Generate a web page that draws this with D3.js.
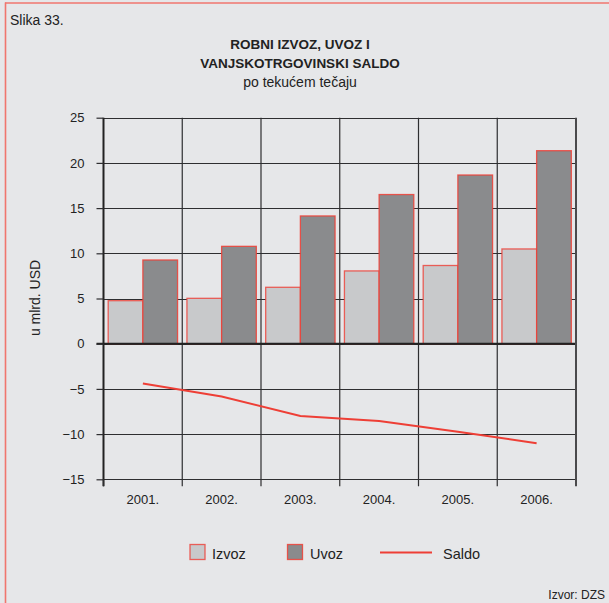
<!DOCTYPE html>
<html><head><meta charset="utf-8">
<script src="https://cdn.jsdelivr.net/npm/d3@7"></script>
<style>
html,body{margin:0;padding:0;background:#e6e7e9;}
svg{display:block;font-family:"Liberation Sans",Arial,sans-serif;}
</style></head>
<body>
<svg id="c" width="609" height="603"></svg>
<script>
const years = ["2001.","2002.","2003.","2004.","2005.","2006."];
const izvoz = [4.76, 5.02, 6.24, 8.05, 8.65, 10.48];
const uvoz  = [9.26, 10.77, 14.13, 16.5, 18.66, 21.35];
const saldo = [-4.4, -5.85, -8.0, -8.55, -9.75, -11.0];
const yTicks = [25,20,15,10,5,0,-5,-10,-15];
const yTickLabels = ["25","20","15","10","5","0","\u22125","\u221210","\u221215"];
const legendLabels = ["Izvoz","Uvoz","Saldo"];

const svg = d3.select("#c");
const red = "#ee3f36";
const grid = "#2e2e30";

svg.append("rect").attr("x",0).attr("y",0).attr("width",609).attr("height",603).attr("fill","#e6e7e9");
// frame (left and top)
svg.append("line").attr("x1",5.5).attr("x2",5.5).attr("y1",2.5).attr("y2",603).attr("stroke","#f0766e").attr("stroke-width",1.6);
svg.append("line").attr("x1",5).attr("x2",609).attr("y1",3).attr("y2",3).attr("stroke","#f0766e").attr("stroke-width",1.6);

svg.append("text").attr("x",10).attr("y",25).attr("font-size",14).attr("fill","#222").text("Slika 33.");
svg.append("text").attr("x",300).attr("y",49).attr("text-anchor","middle").attr("font-size",13.5).attr("font-weight","bold").attr("fill","#222").text("ROBNI IZVOZ, UVOZ I");
svg.append("text").attr("x",300).attr("y",68).attr("text-anchor","middle").attr("font-size",13.5).attr("font-weight","bold").attr("fill","#222").text("VANJSKOTRGOVINSKI SALDO");
svg.append("text").attr("x",300).attr("y",87).attr("text-anchor","middle").attr("font-size",14).attr("fill","#222").text("po tekućem tečaju");

const L = 103.5, R = 576, T = 117.7, B = 479.3;
const x = d3.scaleBand().domain(years).range([L,R]).paddingInner(0).paddingOuter(0);
const y = d3.scaleLinear().domain([-15,25]).range([B,T]);
const inner = d3.scaleBand().domain(["iz","uv"]).range([0,x.bandwidth()]).paddingOuter(0.135).paddingInner(0);

// horizontal gridlines
svg.append("g").selectAll("line").data(yTicks).join("line")
  .attr("x1",L).attr("x2",R).attr("y1",d=>Math.round(y(d))+0.5).attr("y2",d=>Math.round(y(d))+0.5)
  .attr("stroke",grid).attr("stroke-width",1.2);
// vertical gridlines
const bounds = years.map(d=>x(d)).concat([R]);
svg.append("g").selectAll("line").data(bounds.slice(1,-1)).join("line")
  .attr("x1",d=>d).attr("x2",d=>d).attr("y1",T).attr("y2",B+7)
  .attr("stroke",grid).attr("stroke-width",1.2);

// bars
const g = svg.append("g");
g.selectAll(".iz").data(years).join("rect")
  .attr("x",(d)=>x(d)+inner("iz")).attr("width",inner.bandwidth())
  .attr("y",(d,i)=>y(izvoz[i])).attr("height",(d,i)=>y(0)-y(izvoz[i]))
  .attr("fill","#c8c9cb").attr("stroke",red).attr("stroke-opacity",0.8).attr("stroke-width",1.3);
g.selectAll(".uv").data(years).join("rect")
  .attr("x",(d)=>x(d)+inner("uv")).attr("width",inner.bandwidth())
  .attr("y",(d,i)=>y(uvoz[i])).attr("height",(d,i)=>y(0)-y(uvoz[i]))
  .attr("fill","#8a8b8d").attr("stroke",red).attr("stroke-opacity",0.85).attr("stroke-width",1.3);

// zero line
svg.append("line").attr("x1",L-7).attr("x2",R).attr("y1",y(0)).attr("y2",y(0)).attr("stroke","#222").attr("stroke-width",2);

// y axis
const yAxis = d3.axisLeft(y).tickValues(yTicks).tickFormat((d,i)=>yTickLabels[i]).tickSize(7).tickPadding(12);
const ya = svg.append("g").attr("transform",`translate(${L},0)`).call(yAxis);
ya.select(".domain").attr("stroke","#222").attr("stroke-width",2).attr("d",`M0,${T}V${B+7}`);
ya.selectAll(".tick line").attr("stroke",grid).attr("stroke-width",1.2);
ya.selectAll("text").attr("font-size",13).attr("fill","#222").attr("font-family","Liberation Sans, Arial, sans-serif");

// right edge
svg.append("line").attr("x1",R).attr("x2",R).attr("y1",T).attr("y2",B+7).attr("stroke","#4a4a4c").attr("stroke-width",2);

// x axis
const xAxis = d3.axisBottom(x).tickSize(0).tickPadding(15);
const xa = svg.append("g").attr("transform",`translate(0,${B})`).call(xAxis);
xa.select(".domain").remove();
xa.selectAll("text").attr("font-size",13).attr("fill","#222").attr("font-family","Liberation Sans, Arial, sans-serif");
svg.append("line").attr("x1",L).attr("x2",L).attr("y1",B).attr("y2",B+7).attr("stroke",grid).attr("stroke-width",1.2);

// saldo line
const line = d3.line().x((d,i)=>x(years[i])+x.bandwidth()/2).y(d=>y(d));
svg.append("path").datum(saldo).attr("d",line).attr("fill","none").attr("stroke",red).attr("stroke-width",2);

// y label
svg.append("text").attr("transform","translate(40,298) rotate(-90)").attr("text-anchor","middle")
  .attr("font-size",14).attr("fill","#222").text("u mlrd. USD");

// legend
const lg = svg.append("g");
lg.append("rect").attr("x",190).attr("y",544.5).attr("width",15).attr("height",15).attr("fill","#c8c9cb").attr("stroke",red).attr("stroke-opacity",0.8).attr("stroke-width",1.3);
lg.append("text").attr("x",212).attr("y",559).attr("font-size",14.5).attr("fill","#222").text(legendLabels[0]);
lg.append("rect").attr("x",287.5).attr("y",544.5).attr("width",15).attr("height",15).attr("fill","#8a8b8d").attr("stroke",red).attr("stroke-opacity",0.85).attr("stroke-width",1.3);
lg.append("text").attr("x",310).attr("y",559).attr("font-size",14.5).attr("fill","#222").text(legendLabels[1]);
lg.append("line").attr("x1",380).attr("x2",432).attr("y1",552.5).attr("y2",552.5).attr("stroke",red).attr("stroke-width",1.8);
lg.append("text").attr("x",443).attr("y",559).attr("font-size",14.5).attr("fill","#222").text(legendLabels[2]);

svg.append("text").attr("x",605).attr("y",599).attr("text-anchor","end").attr("font-size",12).attr("fill","#222").text("Izvor: DZS");
</script>
</body></html>
